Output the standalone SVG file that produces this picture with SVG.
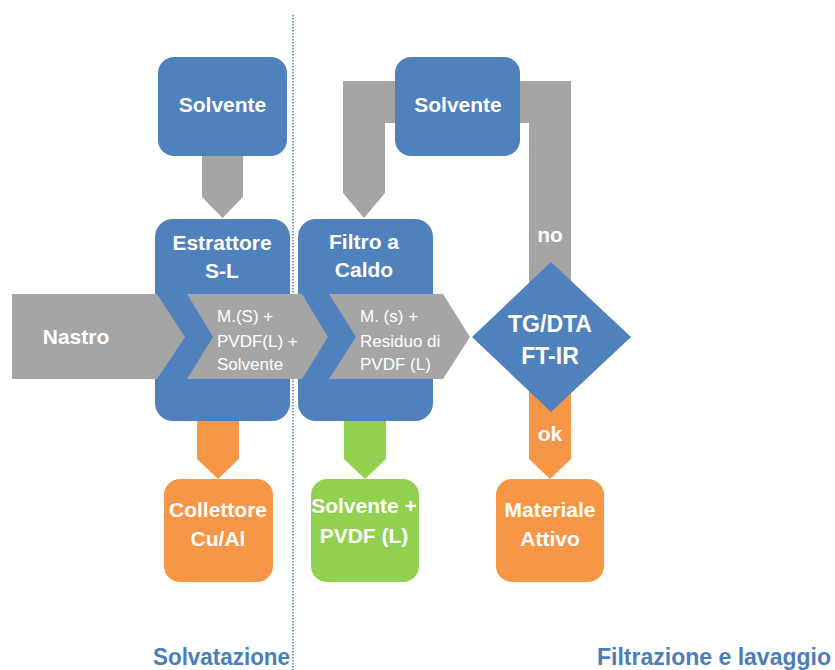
<svg xmlns="http://www.w3.org/2000/svg" width="835" height="670" viewBox="0 0 835 670">
  <style>
    .blue { fill: #4F81BD; }
    .gray { fill: #A5A5A5; }
    .orange { fill: #F79646; }
    .green { fill: #92D050; }
    text { font-family: "Liberation Sans", Arial, sans-serif; fill: #FFFFFF; text-anchor: middle; }
    .lbl { font-size: 21px; font-weight: bold; }
    .big { font-size: 23px; font-weight: bold; }
    .flow { font-size: 17px; text-anchor: start; }
    .phase { font-size: 23px; font-weight: bold; fill: #4A7EBB; text-anchor: start; }
    .divider { stroke: #4F81BD; stroke-width: 1.5; stroke-dasharray: 1.5 1.5; fill: none; }
  </style>

  <rect width="835" height="670" fill="#FFFFFF"/>

  <!-- phase divider -->
  <line class="divider" x1="293" y1="15" x2="293" y2="670"/>

  <!-- connectors -->
  <g id="connectors">
    <!-- solvent to extractor -->
    <path class="gray" d="M202,150 L243,150 L243,197 L222.5,218 L202,197 Z"/>
    <!-- solvent loop: recycle from analysis back to hot filter -->
    <path class="gray" d="M571,81 L343,81 L343,193 L364,218 L385,193 L385,123 L529,123 L529,300 L571,300 Z"/>
    <!-- extractor to current collector -->
    <path class="orange" d="M197,410 L239,410 L239,459 L218,479 L197,459 Z"/>
    <!-- filter to solvent + PVDF -->
    <path class="green" d="M344,410 L386,410 L386,459 L365,479 L344,459 Z"/>
    <!-- analysis ok to active material -->
    <path class="orange" d="M529,380 L571,380 L571,459 L550,479 L529,459 Z"/>
  </g>

  <g id="solvente-1">
    <rect class="blue" x="158" y="57" width="129" height="99" rx="16"/>
    <text class="lbl" x="222.5" y="112">Solvente</text>
  </g>

  <g id="solvente-2">
    <rect class="blue" x="395" y="57" width="125" height="99" rx="16"/>
    <text class="lbl" x="458" y="112">Solvente</text>
  </g>

  <g id="estrattore">
    <rect class="blue" x="155" y="219" width="135" height="202" rx="18"/>
    <text class="lbl" x="222" y="250">Estrattore</text>
    <text class="lbl" x="222" y="278">S-L</text>
  </g>

  <g id="filtro">
    <rect class="blue" x="298" y="219" width="135" height="202" rx="18"/>
    <text class="lbl" x="364" y="249">Filtro a</text>
    <text class="lbl" x="364" y="277">Caldo</text>
  </g>

  <g id="nastro">
    <path class="gray" d="M12,294 L157,294 L185,337 L157,379 L12,379 Z"/>
    <text class="lbl" x="76" y="344">Nastro</text>
  </g>

  <g id="miscela-estratta">
    <path class="gray" d="M187,294 L302,294 L328,337 L302,379 L187,379 L213,337 Z"/>
    <text class="flow" x="217" y="322">M.(S) +</text>
    <text class="flow" x="217" y="347">PVDF(L) +</text>
    <text class="flow" x="217" y="370">Solvente</text>
  </g>

  <g id="miscela-filtrata">
    <path class="gray" d="M329,294 L443,294 L470,337 L443,379 L329,379 L356,337 Z"/>
    <text class="flow" x="360" y="322">M. (s) +</text>
    <text class="flow" x="360" y="347">Residuo di</text>
    <text class="flow" x="360" y="370">PVDF (L)</text>
  </g>

  <g id="analisi">
    <path class="blue" d="M551,262 L631,337 L551,412 L472,337 Z"/>
    <text class="big" x="550" y="332">TG/DTA</text>
    <text class="big" x="550" y="364">FT-IR</text>
  </g>

  <g id="esito-labels">
    <text class="lbl" x="550" y="242">no</text>
    <text class="lbl" x="550" y="441">ok</text>
  </g>

  <g id="collettore">
    <rect class="orange" x="164" y="479" width="109" height="103" rx="16"/>
    <text class="lbl" x="218" y="517">Collettore</text>
    <text class="lbl" x="218" y="546">Cu/Al</text>
  </g>

  <g id="solvente-pvdf">
    <rect class="green" x="311" y="479" width="108" height="103" rx="16"/>
    <text class="lbl" x="364" y="513">Solvente +</text>
    <text class="lbl" x="364" y="543">PVDF (L)</text>
  </g>

  <g id="materiale-attivo">
    <rect class="orange" x="496" y="479" width="108" height="103" rx="16"/>
    <text class="lbl" x="550" y="517">Materiale</text>
    <text class="lbl" x="550" y="546">Attivo</text>
  </g>

  <g id="fasi">
    <text class="phase" x="153" y="665" textLength="137" lengthAdjust="spacingAndGlyphs">Solvatazione</text>
    <text class="phase" x="597" y="665" textLength="234" lengthAdjust="spacingAndGlyphs">Filtrazione e lavaggio</text>
  </g>
</svg>
